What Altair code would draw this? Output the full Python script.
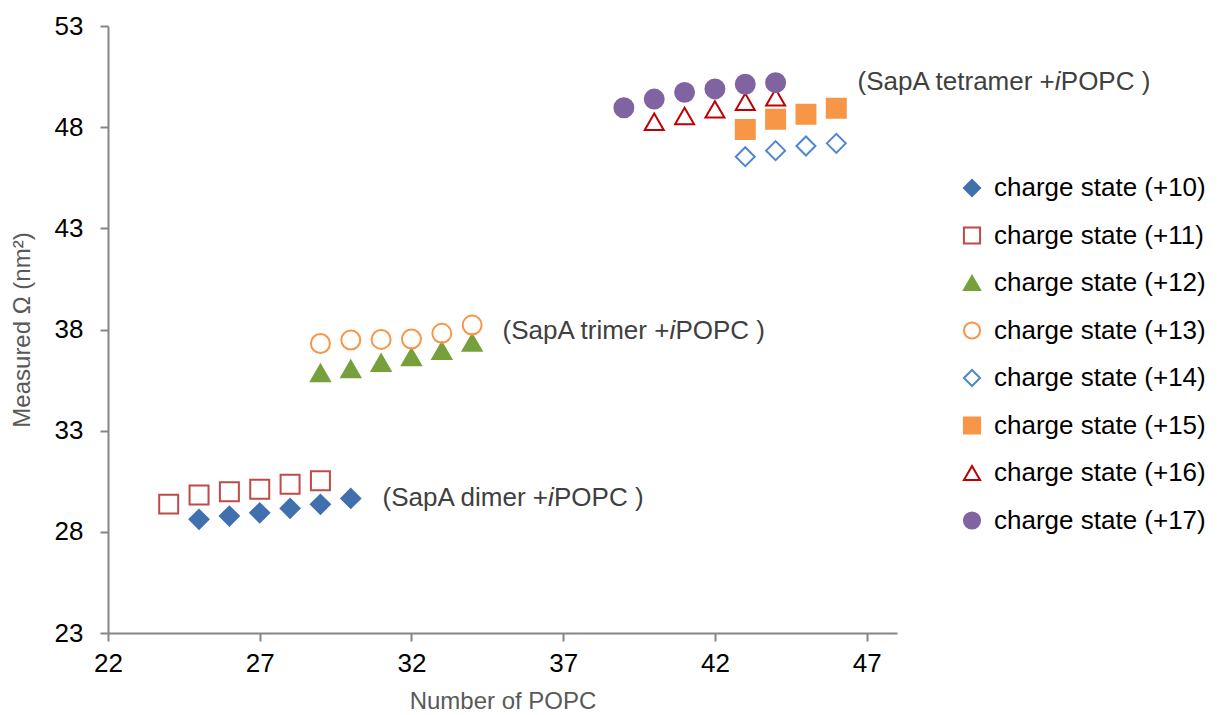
import altair as alt
import pandas as pd

# ---- data ----
series_labels = [
    "charge state (+10)", "charge state (+11)", "charge state (+12)", "charge state (+13)",
    "charge state (+14)", "charge state (+15)", "charge state (+16)", "charge state (+17)",
]
x10 = [25, 26, 27, 28, 29, 30]
y10 = [28.62, 28.78, 28.94, 29.16, 29.36, 29.65]
x11 = [24, 25, 26, 27, 28, 29]
y11 = [29.37, 29.82, 29.98, 30.11, 30.35, 30.52]
x12 = [29, 30, 31, 32, 33, 34]
y12 = [35.85, 36.05, 36.36, 36.64, 36.95, 37.35]
x13 = [29, 30, 31, 32, 33, 34]
y13 = [37.31, 37.48, 37.51, 37.53, 37.81, 38.22]
x14 = [43, 44, 45, 46]
y14 = [46.54, 46.84, 47.07, 47.20]
x15 = [43, 44, 45, 46]
y15 = [47.89, 48.39, 48.64, 48.93]
x16 = [40, 41, 42, 43, 44]
y16 = [48.27, 48.55, 48.88, 49.26, 49.48]
x17 = [39, 40, 41, 42, 43, 44]
y17 = [48.96, 49.39, 49.72, 49.89, 50.12, 50.20]

shapes = ["diamond", "square", "triangle-up", "circle", "diamond", "square", "triangle-up", "circle"]
strokes = ["#4170AE", "#BE4B48", "#77A03C", "#F79646", "#4F87CF", "#F79646", "#C00000", "#8064A2"]
fills = ["#4170AE", "transparent", "#77A03C", "transparent", "transparent", "#F79646", "transparent", "#8064A2"]

x_ticks = [22, 27, 32, 37, 42, 47]
y_ticks = [23, 28, 33, 38, 43, 48, 53]

ann_x = [36.50, 40.50, 53.20]
ann_y = [29.67, 37.92, 50.25]
ann_pre = ["(SapA dimer +", "(SapA trimer +", "(SapA tetramer +"]
ann_ital = ["i", "i", "i"]
ann_post = ["POPC )", "POPC )", "POPC )"]

# ---- build table ----
xs = [x10, x11, x12, x13, x14, x15, x16, x17]
ys = [y10, y11, y12, y13, y14, y15, y16, y17]
rows = []
for lab, xv, yv in zip(series_labels, xs, ys):
    for a, b in zip(xv, yv):
        rows.append({"series": lab, "popc": a, "omega": b})
df = pd.DataFrame(rows)
ann = pd.DataFrame({"x": ann_x, "y": ann_y, "pre": ann_pre, "ital": ann_ital, "post": ann_post})

FONT = "Liberation Sans"

legend = alt.Legend(
    title=None, orient="none", legendX=851, legendY=149,
    labelFont=FONT, labelFontSize=26, labelColor="#000000",
    symbolSize=260, symbolStrokeWidth=2, symbolOpacity=1,
    rowPadding=21.5, labelOffset=9, padding=0, labelLimit=400,
)

xscale = alt.Scale(domain=[22, 48], nice=False, zero=False)
yscale = alt.Scale(domain=[23, 53], nice=False, zero=False)

points = alt.Chart(df).mark_point(strokeWidth=2, opacity=1, size=360).encode(
    x=alt.X("popc:Q", scale=xscale, title="Number of POPC",
            axis=alt.Axis(values=x_ticks, grid=False, format="d", labelFlush=False, labelPadding=9)),
    y=alt.Y("omega:Q", scale=yscale, title="Measured Ω (nm²)",
            axis=alt.Axis(values=y_ticks, grid=False, format="d", labelFlush=False, labelPadding=17)),
    shape=alt.Shape("series:N", scale=alt.Scale(domain=series_labels, range=shapes), legend=legend),
    stroke=alt.Stroke("series:N", scale=alt.Scale(domain=series_labels, range=strokes), legend=legend),
    fill=alt.Fill("series:N", scale=alt.Scale(domain=series_labels, range=fills), legend=legend),
)

tcol = "#404040"
FS = 26
t1 = alt.Chart(ann).mark_text(align="right", baseline="middle", font=FONT, fontSize=FS, color=tcol).encode(
    x=alt.X("x:Q", scale=xscale), y=alt.Y("y:Q", scale=yscale), text="pre:N")
t2 = alt.Chart(ann).mark_text(align="left", baseline="middle", font=FONT, fontSize=FS, fontStyle="italic", color=tcol).encode(
    x=alt.X("x:Q", scale=xscale), y=alt.Y("y:Q", scale=yscale), text="ital:N")
t3 = alt.Chart(ann).mark_text(align="left", baseline="middle", dx=6, font=FONT, fontSize=FS, color=tcol).encode(
    x=alt.X("x:Q", scale=xscale), y=alt.Y("y:Q", scale=yscale), text="post:N")

chart = alt.layer(points, t1, t2, t3).properties(
    width=789, height=607,
    autosize=alt.AutoSizeParams(type="none"),
    padding={"left": 108, "top": 26, "right": 328, "bottom": 82},
).configure_view(stroke=None).configure_axis(
    domainColor="#868686", domainWidth=2, tickColor="#868686", tickWidth=2, tickSize=8,
    labelFont=FONT, labelFontSize=26, labelColor="#000000",
    titleFont=FONT, titleFontSize=24, titleFontWeight="normal", titleColor="#595959",
).configure_axisY(titlePadding=20).configure_axisX(titlePadding=13)

chart.save("out.html", embed_options={"renderer": "svg", "actions": False})
